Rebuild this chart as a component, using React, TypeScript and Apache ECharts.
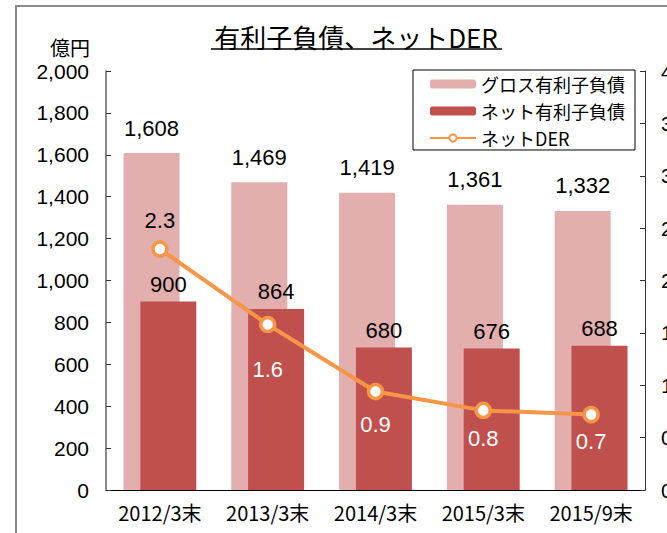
import React, { useEffect, useRef } from "react";
import * as echarts from "echarts";

const categories = ["2012/3末", "2013/3末", "2014/3末", "2015/3末", "2015/9末"];
const grossDebt = [1608, 1469, 1419, 1361, 1332];
const netDebt = [900, 864, 680, 676, 688];
const netDER = [2.3, 1.58, 0.94, 0.76, 0.72];
const derLabels = ["2.3", "1.6", "0.9", "0.8", "0.7"];
const derLabelPos = ["top", "bottom", "bottom", "bottom", "bottom"];
const derLabelDist = [9, 25, 13, 8, 7];

const NUM_FONT = "'Liberation Sans', Arial, sans-serif";
const JP_FONT = "'Noto Sans CJK JP', sans-serif";

export default function App() {
  const ref = useRef<HTMLDivElement>(null);
  useEffect(() => {
    document.documentElement.style.overflow = "hidden";
    document.body.style.margin = "0";
    document.body.style.overflow = "hidden";
    if (!ref.current) return;
    const chart = echarts.init(ref.current, undefined, { renderer: "svg", width: 667, height: 533 });
    chart.setOption({
      animation: false,
      backgroundColor: "#fff",
      graphic: [
        {
          type: "rect",
          shape: { x: 16, y: 6, width: 900, height: 900 },
          style: { fill: "none", stroke: "#8a8a8a", lineWidth: 2 },
          silent: true,
        },
        {
          type: "text",
          x: 356,
          y: 36,
          style: {
            text: "有利子負債、ネットDER",
            font: `26px ${JP_FONT}`,
            fill: "#000",
            align: "center",
            verticalAlign: "middle",
          },
        },
        {
          type: "line",
          shape: { x1: 211, y1: 49, x2: 502, y2: 49 },
          style: { stroke: "#000", lineWidth: 1.5 },
        },
      ],
      legend: {
        orient: "vertical",
        left: 413,
        top: 70,
        padding: [5, 10, 3, 16],
        itemGap: 9,
        itemWidth: 46,
        itemHeight: 9,
        borderColor: "#000",
        borderWidth: 1,
        textStyle: { fontFamily: JP_FONT, fontSize: 18, color: "#000" },
        data: ["グロス有利子負債", "ネット有利子負債", "ネットDER"],
      },
      grid: {
        left: 106,
        right: 22,
        top: 71,
        bottom: 43,
        containLabel: false,
        outerBoundsMode: "none",
      },
      xAxis: {
        type: "category",
        data: categories,
        axisLine: { lineStyle: { color: "#000", width: 1 } },
        axisTick: { inside: true, length: 5, lineStyle: { color: "#000" } },
        axisLabel: {
          interval: 0,
          fontFamily: JP_FONT,
          fontSize: 20,
          color: "#000",
          margin: 12,
        },
      },
      yAxis: [
        {
          type: "value",
          min: 0,
          max: 2000,
          interval: 200,
          name: "億円",
          nameLocation: "end",
          nameGap: 13,
          nameTextStyle: {
            fontFamily: JP_FONT,
            fontSize: 20,
            lineHeight: 22,
            color: "#000",
            align: "right",
            padding: [0, 16, 0, 0],
          },
          splitLine: { show: false },
          axisLine: { show: true, lineStyle: { color: "#666", width: 1.5 } },
          axisTick: { show: true, inside: true, length: 5, lineStyle: { color: "#333" } },
          axisLabel: {
            fontFamily: NUM_FONT,
            fontSize: 21,
            color: "#000",
            margin: 17,
            formatter: (v: number) => v.toLocaleString("en-US"),
          },
        },
        {
          type: "value",
          min: 0,
          max: 4,
          interval: 0.5,
          splitLine: { show: false },
          axisLine: { show: true, lineStyle: { color: "#333", width: 1 } },
          axisTick: { show: true, inside: true, length: 5, lineStyle: { color: "#333" } },
          axisLabel: {
            fontFamily: NUM_FONT,
            fontSize: 21,
            color: "#000",
            margin: 16,
            formatter: (v: number) => v.toFixed(1),
          },
        },
      ],
      series: [
        {
          name: "グロス有利子負債",
          type: "bar",
          data: grossDebt,
          barWidth: 56,
          barGap: "-70%",
          itemStyle: { color: "#E3AEAE" },
          label: {
            show: true,
            position: "top",
            distance: 14,
            fontFamily: NUM_FONT,
            fontSize: 22,
            color: "#000",
            formatter: (p: any) => Number(p.value).toLocaleString("en-US"),
          },
          z: 1,
        },
        {
          name: "ネット有利子負債",
          type: "bar",
          data: netDebt,
          barWidth: 56,
          barGap: "-70%",
          itemStyle: { color: "#C0504D" },
          label: {
            show: true,
            position: "top",
            distance: 6,
            fontFamily: NUM_FONT,
            fontSize: 22,
            color: "#000",
          },
          z: 2,
        },
        {
          name: "ネットDER",
          type: "line",
          yAxisIndex: 1,
          data: netDER.map((v, i) => ({
            value: v,
            label: {
              show: true,
              position: derLabelPos[i],
              distance: derLabelDist[i],
              color: i === 0 ? "#000" : "#fff",
              fontFamily: NUM_FONT,
              fontSize: 22,
              formatter: () => derLabels[i],
            },
          })),
          symbol: "circle",
          symbolSize: 14,
          lineStyle: { color: "#F79646", width: 4 },
          itemStyle: { color: "#fff", borderColor: "#F79646", borderWidth: 3.5 },
          z: 5,
        },
      ],
    });
    return () => chart.dispose();
  }, []);
  return (
    <div
      ref={ref}
      style={{ position: "absolute", left: 0, top: 0, width: 667, height: 533, overflow: "hidden" }}
    />
  );
}
